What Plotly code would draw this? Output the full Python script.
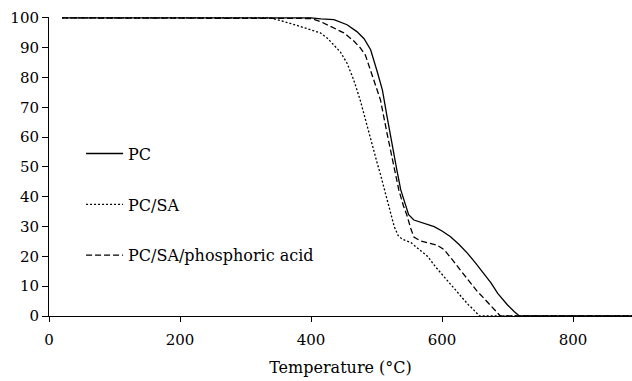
import plotly.graph_objects as go

# Temperature (°C) and residual weight (%)
pc_T = [20, 100, 200, 300, 400, 415, 435, 455, 470, 481, 491, 501, 509, 516, 524, 531, 537, 544, 549,
        557, 567, 588, 600, 613, 626, 639, 651, 664, 675, 685, 700, 710, 718, 800, 890]
pc_W = [100, 100, 100, 100, 100, 99.7, 99.4, 97.7, 95.4, 93, 89.3, 82, 75.8, 67, 57, 49, 42.3, 37, 34,
        32.2, 31.5, 30, 28.5, 26.6, 24, 21, 17.8, 14.3, 11, 7.6, 3.7, 1.5, 0, 0, 0]

pcsa_T = [20, 100, 200, 300, 338, 368, 399, 414, 425, 445, 455, 465, 475, 483, 491, 501, 506, 516, 521,
          527, 533, 539, 552, 567, 578, 590, 603, 616, 628, 640, 646, 654, 657, 800, 890]
pcsa_W = [100, 100, 100, 100, 100, 98.2, 96, 95, 93.2, 88.5, 84.8, 79.3, 72.5, 65.8, 59, 51.3, 47.5, 39, 34.5,
          30, 27, 25.8, 24.7, 22, 20, 16.5, 13.2, 9.8, 6.5, 3.8, 2.6, 0.9, 0, 0, 0]

pcsap_T = [20, 100, 200, 300, 384, 400, 414, 430, 450, 465, 475, 483, 491, 499, 506, 516, 526, 534, 541,
           547, 552, 557, 567, 580, 592, 603, 610, 616, 628, 641, 654, 662, 669, 678, 685, 689, 800, 890]
pcsap_W = [100, 100, 100, 100, 100, 99.8, 98.8, 97.2, 95, 92.3, 90, 87.5, 82, 77, 72.5, 61.3, 51.3, 42.3, 37,
           33.4, 29.5, 26.5, 25.2, 24.4, 23.8, 22.3, 20.5, 18.8, 15.4, 11.8, 8.2, 6.4, 4.8, 2.5, 0.9, 0, 0, 0]

x_ticks = [0, 200, 400, 600, 800]
y_ticks = [0, 10, 20, 30, 40, 50, 60, 70, 80, 90, 100]

FONT = "DejaVu Serif"

fig = go.Figure()
fig.add_trace(go.Scatter(x=pc_T, y=pc_W, mode="lines", name="PC", legendgroup="a",
                         line=dict(color="black", width=1.3, dash="solid")))
fig.add_trace(go.Scatter(x=pcsa_T, y=pcsa_W, mode="lines", name="PC/SA", legendgroup="b",
                         line=dict(color="black", width=1.3, dash="2px,2px")))
fig.add_trace(go.Scatter(x=pcsap_T, y=pcsap_W, mode="lines", name="PC/SA/phosphoric acid", legendgroup="c",
                         line=dict(color="black", width=1.3, dash="6px,3px")))

fig.update_layout(
    width=632, height=381,
    margin=dict(l=49, r=0, t=17, b=65),
    paper_bgcolor="white", plot_bgcolor="white",
    font=dict(family=FONT, color="black", size=15),
    showlegend=True,
    legend=dict(x=0.055, y=0.60, xanchor="left", yanchor="top",
                bgcolor="rgba(0,0,0,0)", font=dict(family=FONT, size=16, color="black"),
                tracegroupgap=27, itemwidth=37),
    xaxis=dict(range=[0, 890], tickvals=x_ticks, ticks="outside", ticklen=5, tickcolor="black",
               showline=True, linecolor="black", linewidth=1, showgrid=False, zeroline=False,
               tickfont=dict(family=FONT, size=15), ticklabelstandoff=5,
               title=dict(text="Temperature (°C)", font=dict(family=FONT, size=16), standoff=13)),
    yaxis=dict(range=[0, 100.3], tickvals=y_ticks, ticks="outside", ticklen=6, tickcolor="black",
               showline=True, linecolor="black", linewidth=1, showgrid=False, zeroline=False,
               tickfont=dict(family=FONT, size=15)),
)

fig.write_html("out.html")
